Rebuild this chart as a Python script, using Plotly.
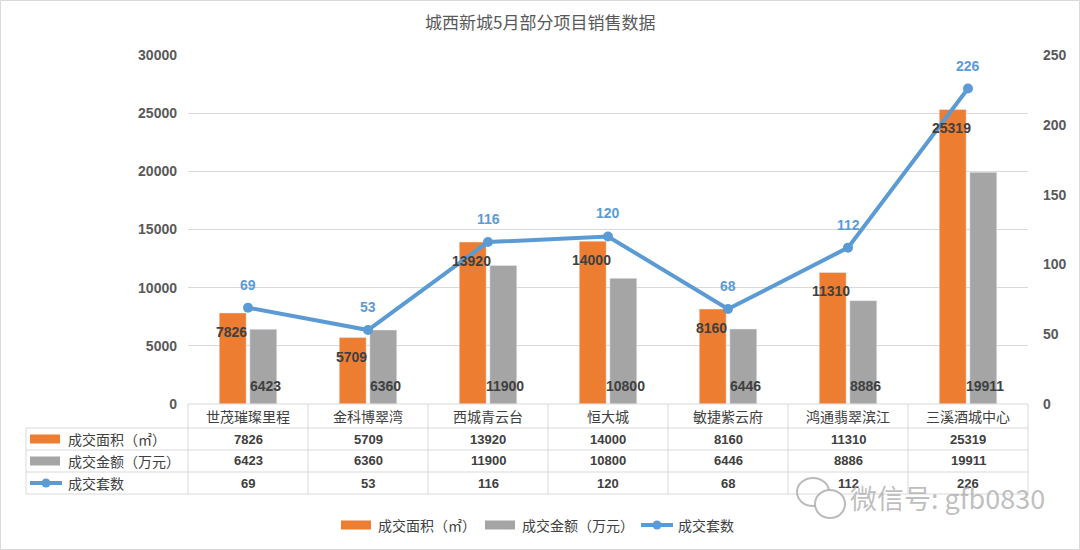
import plotly.graph_objects as go

title = "城西新城5月部分项目销售数据"
categories = ["世茂璀璨里程", "金科博翠湾", "西城青云台", "恒大城", "敏捷紫云府", "鸿通翡翠滨江", "三溪酒城中心"]
area = [7826, 5709, 13920, 14000, 8160, 11310, 25319]
amount = [6423, 6360, 11900, 10800, 6446, 8886, 19911]
units = [69, 53, 116, 120, 68, 112, 226]
series_names = ["成交面积（㎡）", "成交金额（万元）", "成交套数"]
left_ticks = [0, 5000, 10000, 15000, 20000, 25000, 30000]
right_ticks = [0, 50, 100, 150, 200, 250]

W, H = 1080, 550
L, R, T, B = 188, 1028, 55, 404
ORANGE = "#ED7D31"
GRAY = "#A5A5A5"
BLUE = "#5B9BD5"
GRID = "#D9D9D9"
TXT = "#404040"
CJK = "Noto Sans CJK SC"
NUM = "Liberation Sans"


def px(x):
    return (x - L) / (R - L)


def py(y):
    return (B - y) / (B - T)


fig = go.Figure()
fig.add_trace(go.Bar(x=categories, y=area, name=series_names[0], marker_color=ORANGE,
                     showlegend=False, hoverinfo="x+y"))
fig.add_trace(go.Bar(x=categories, y=amount, name=series_names[1], marker_color=GRAY,
                     showlegend=False, hoverinfo="x+y"))
fig.add_trace(go.Scatter(x=categories, y=units, name=series_names[2], yaxis="y2",
                         mode="lines+markers", line=dict(color=BLUE, width=4),
                         marker=dict(size=10, color=BLUE), showlegend=False))

ann = []
shapes = []

# bar labels
for c, v in zip(categories, area):
    ann.append(dict(x=c, y=v, xref="x", yref="y", text=f"<b>{v}</b>", showarrow=False,
                    xanchor="center", yanchor="middle",
                    xshift=-17, yshift=-19, font=dict(family=NUM, size=14, color=TXT)))
for c, v in zip(categories, amount):
    ann.append(dict(x=c, y=0, xref="x", yref="y", text=f"<b>{v}</b>", showarrow=False,
                    xanchor="center", yanchor="middle",
                    xshift=17, yshift=18, font=dict(family=NUM, size=14, color=TXT)))
# line labels
for c, v in zip(categories, units):
    ann.append(dict(x=c, y=v, xref="x", yref="y2", text=f"<b>{v}</b>", showarrow=False,
                    xanchor="center", yanchor="middle",
                    yshift=23, font=dict(family=NUM, size=14, color=BLUE)))

# data table
row_lines = [404, 428, 450, 472, 494]
row_centers = [416, 439, 461, 483]
line_kw = dict(color=GRID, width=1)
shapes.append(dict(type="line", xref="paper", yref="paper", x0=px(L), x1=px(R), y0=py(404), y1=py(404), line=line_kw))
for yy in row_lines[1:]:
    shapes.append(dict(type="line", xref="paper", yref="paper", x0=px(26), x1=px(R), y0=py(yy), y1=py(yy), line=line_kw))
shapes.append(dict(type="line", xref="paper", yref="paper", x0=px(26), x1=px(26), y0=py(428), y1=py(494), line=line_kw))
n = len(categories)
for i in range(n + 1):
    xx = L + (R - L) * i / n
    shapes.append(dict(type="line", xref="paper", yref="paper", x0=px(xx), x1=px(xx), y0=py(404), y1=py(494), line=line_kw))

for c in categories:
    ann.append(dict(x=c, y=py(row_centers[0]), xref="x", yref="paper", text=c, showarrow=False,
                    xanchor="center", yanchor="middle",
                    font=dict(family=CJK, size=14, color=TXT)))
for vals, yc in zip([area, amount, units], row_centers[1:]):
    for c, v in zip(categories, vals):
        ann.append(dict(x=c, y=py(yc), xref="x", yref="paper", text=f"<b>{v}</b>", showarrow=False,
                        xanchor="center", yanchor="middle",
                        font=dict(family=NUM, size=13, color=TXT)))


def key(x0, yc, kind):
    if kind == 0 or kind == 1:
        col = ORANGE if kind == 0 else GRAY
        shapes.append(dict(type="rect", xref="paper", yref="paper", x0=px(x0), x1=px(x0 + 30),
                           y0=py(yc + 4.5), y1=py(yc - 4.5), fillcolor=col, line=dict(width=0)))
    else:
        shapes.append(dict(type="line", xref="paper", yref="paper", x0=px(x0), x1=px(x0 + 32),
                           y0=py(yc), y1=py(yc), line=dict(color=BLUE, width=4)))
        shapes.append(dict(type="circle", xref="paper", yref="paper", x0=px(x0 + 11.5), x1=px(x0 + 20.5),
                           y0=py(yc + 4.5), y1=py(yc - 4.5), fillcolor=BLUE, line=dict(width=0)))


for k, (name, yc) in enumerate(zip(series_names, row_centers[1:])):
    key(30, yc, k)
    ann.append(dict(x=px(66), y=py(yc), xref="paper", yref="paper", xanchor="left", yanchor="middle",
                    text=name, showarrow=False, font=dict(family=CJK, size=14, color=TXT)))

# bottom legend
leg_y = 525
leg_x = [341, 485, 641]
for k, (name, lx) in enumerate(zip(series_names, leg_x)):
    key(lx, leg_y, k)
    ann.append(dict(x=px(lx + 35), y=py(leg_y), xref="paper", yref="paper", xanchor="left", yanchor="middle",
                    text=name, showarrow=False, font=dict(family=CJK, size=14, color=TXT)))

# title
ann.append(dict(x=px(540), y=py(22), xref="paper", yref="paper", xanchor="center", yanchor="middle",
                text=title, showarrow=False, font=dict(family=CJK, size=17, color="#595959")))

# watermark
ann.append(dict(x=px(848), y=py(497), xref="paper", yref="paper", xanchor="left", yanchor="middle",
                text="微信号: gfb0830",
                showarrow=False, font=dict(family=CJK, size=27, color="rgba(170,170,170,0.75)")))
shapes.append(dict(type="circle", xref="paper", yref="paper", x0=px(797), x1=px(829), y0=py(478), y1=py(506),
                   line=dict(color="rgba(170,170,170,0.8)", width=2)))
shapes.append(dict(type="circle", xref="paper", yref="paper", x0=px(815), x1=px(845), y0=py(490), y1=py(518),
                   fillcolor="white", line=dict(color="rgba(170,170,170,0.8)", width=2)))

# outer border
shapes.append(dict(type="rect", xref="paper", yref="paper", x0=px(0.5), x1=px(W - 0.5), y0=py(0.5), y1=py(H - 0.5),
                   line=dict(color=GRID, width=1), layer="below"))

fig.update_layout(
    width=W, height=H,
    margin=dict(l=L, r=W - R, t=T, b=H - B),
    paper_bgcolor="white", plot_bgcolor="white",
    barmode="group", bargap=0.49, bargroupgap=0.12,
    showlegend=False,
    xaxis=dict(showticklabels=False, showgrid=False, zeroline=False, showline=False, ticks=""),
    yaxis=dict(range=[0, 30000], tickvals=left_ticks, showgrid=True, gridcolor=GRID, gridwidth=1,
               zeroline=False, showline=False, ticks="", ticklabelstandoff=10,
               tickfont=dict(family=NUM, size=14, color="#595959", weight=700), tickformat="d"),
    yaxis2=dict(range=[0, 250], tickvals=right_ticks, overlaying="y", side="right", showgrid=False,
                zeroline=False, showline=False, ticks="", ticklabelstandoff=14,
                tickfont=dict(family=NUM, size=14, color="#595959", weight=700)),
    annotations=ann, shapes=shapes,
)

fig.write_html("out.html", config={"displayModeBar": False},
               post_script="document.body.style.margin='0';document.body.style.overflow='hidden';")
